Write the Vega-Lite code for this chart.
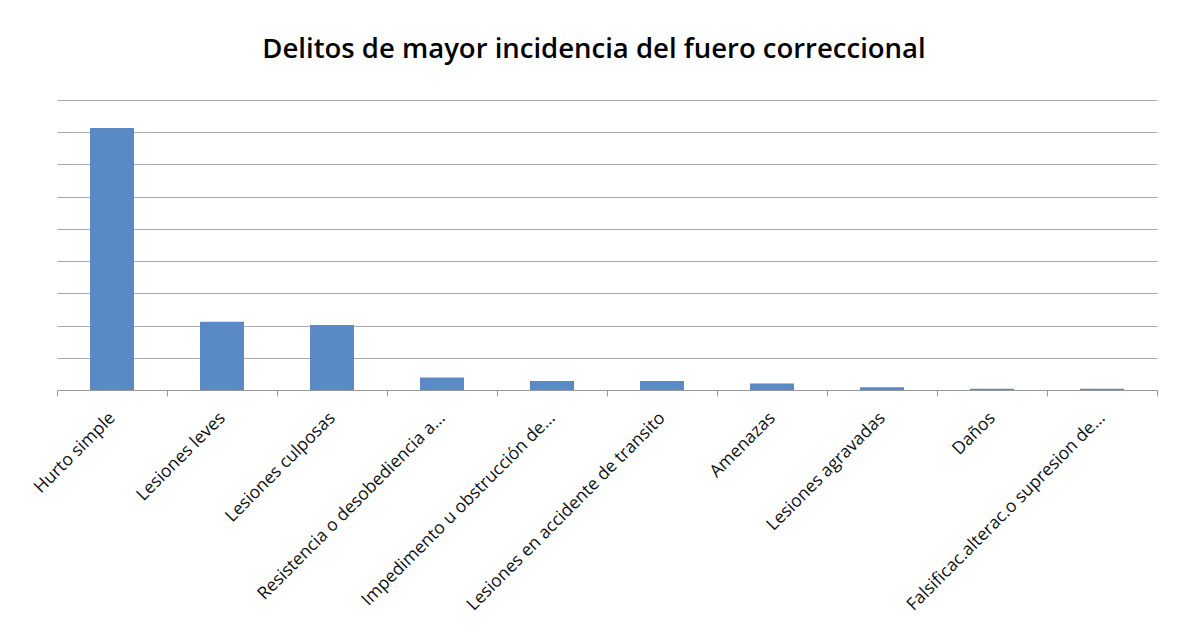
{
  "$schema": "https://vega.github.io/schema/vega-lite/v6.json",
  "autosize": "none",
  "width": 1100,
  "height": 290,
  "padding": {"left": 57, "top": 100, "right": 25, "bottom": 249},
  "background": "white",
  "title": {
    "text": "Delitos de mayor incidencia del fuero correccional",
    "font": "Open Sans",
    "fontSize": 27.5,
    "fontWeight": 600,
    "color": "#000000",
    "anchor": "middle",
    "offset": 37,
    "dx": -13
  },
  "data": {
    "values": [
      {"delito": "Hurto simple", "valor": 8.13},
      {"delito": "Lesiones leves", "valor": 2.12},
      {"delito": "Lesiones culposas", "valor": 2.02},
      {"delito": "Resistencia o desobediencia a...", "valor": 0.39},
      {"delito": "Impedimento u obstrucción de...", "valor": 0.28},
      {"delito": "Lesiones en accidente de transito", "valor": 0.28},
      {"delito": "Amenazas", "valor": 0.2},
      {"delito": "Lesiones agravadas", "valor": 0.085},
      {"delito": "Daños", "valor": 0.04},
      {"delito": "Falsificac.alterac.o supresion de...", "valor": 0.04}
    ]
  },
  "mark": {"type": "bar", "color": "#5A8AC6", "width": {"band": 0.4}},
  "encoding": {
    "x": {
      "field": "delito",
      "type": "nominal",
      "sort": null,
      "scale": {"paddingInner": 0, "paddingOuter": 0},
      "axis": {
        "title": null,
        "labelAngle": -45,
        "labelAlign": "right",
        "labelBaseline": "middle",
        "labelFont": "Open Sans",
        "labelFontSize": 17.5,
        "labelColor": "#111111",
        "labelPadding": 19,
        "labelOffset": 0,
        "labelLimit": 400,
        "tickBand": "extent",
        "tickSize": 6,
        "tickColor": "#999999",
        "domainColor": "#999999",
        "grid": false
      }
    },
    "y": {
      "field": "valor",
      "type": "quantitative",
      "scale": {"domain": [0, 9], "nice": false},
      "axis": {
        "title": null,
        "labels": false,
        "ticks": false,
        "domain": false,
        "grid": true,
        "values": [0, 1, 2, 3, 4, 5, 6, 7, 8, 9],
        "gridColor": "#ababab",
        "gridWidth": 1
      }
    }
  },
  "config": {"view": {"stroke": null}}
}
